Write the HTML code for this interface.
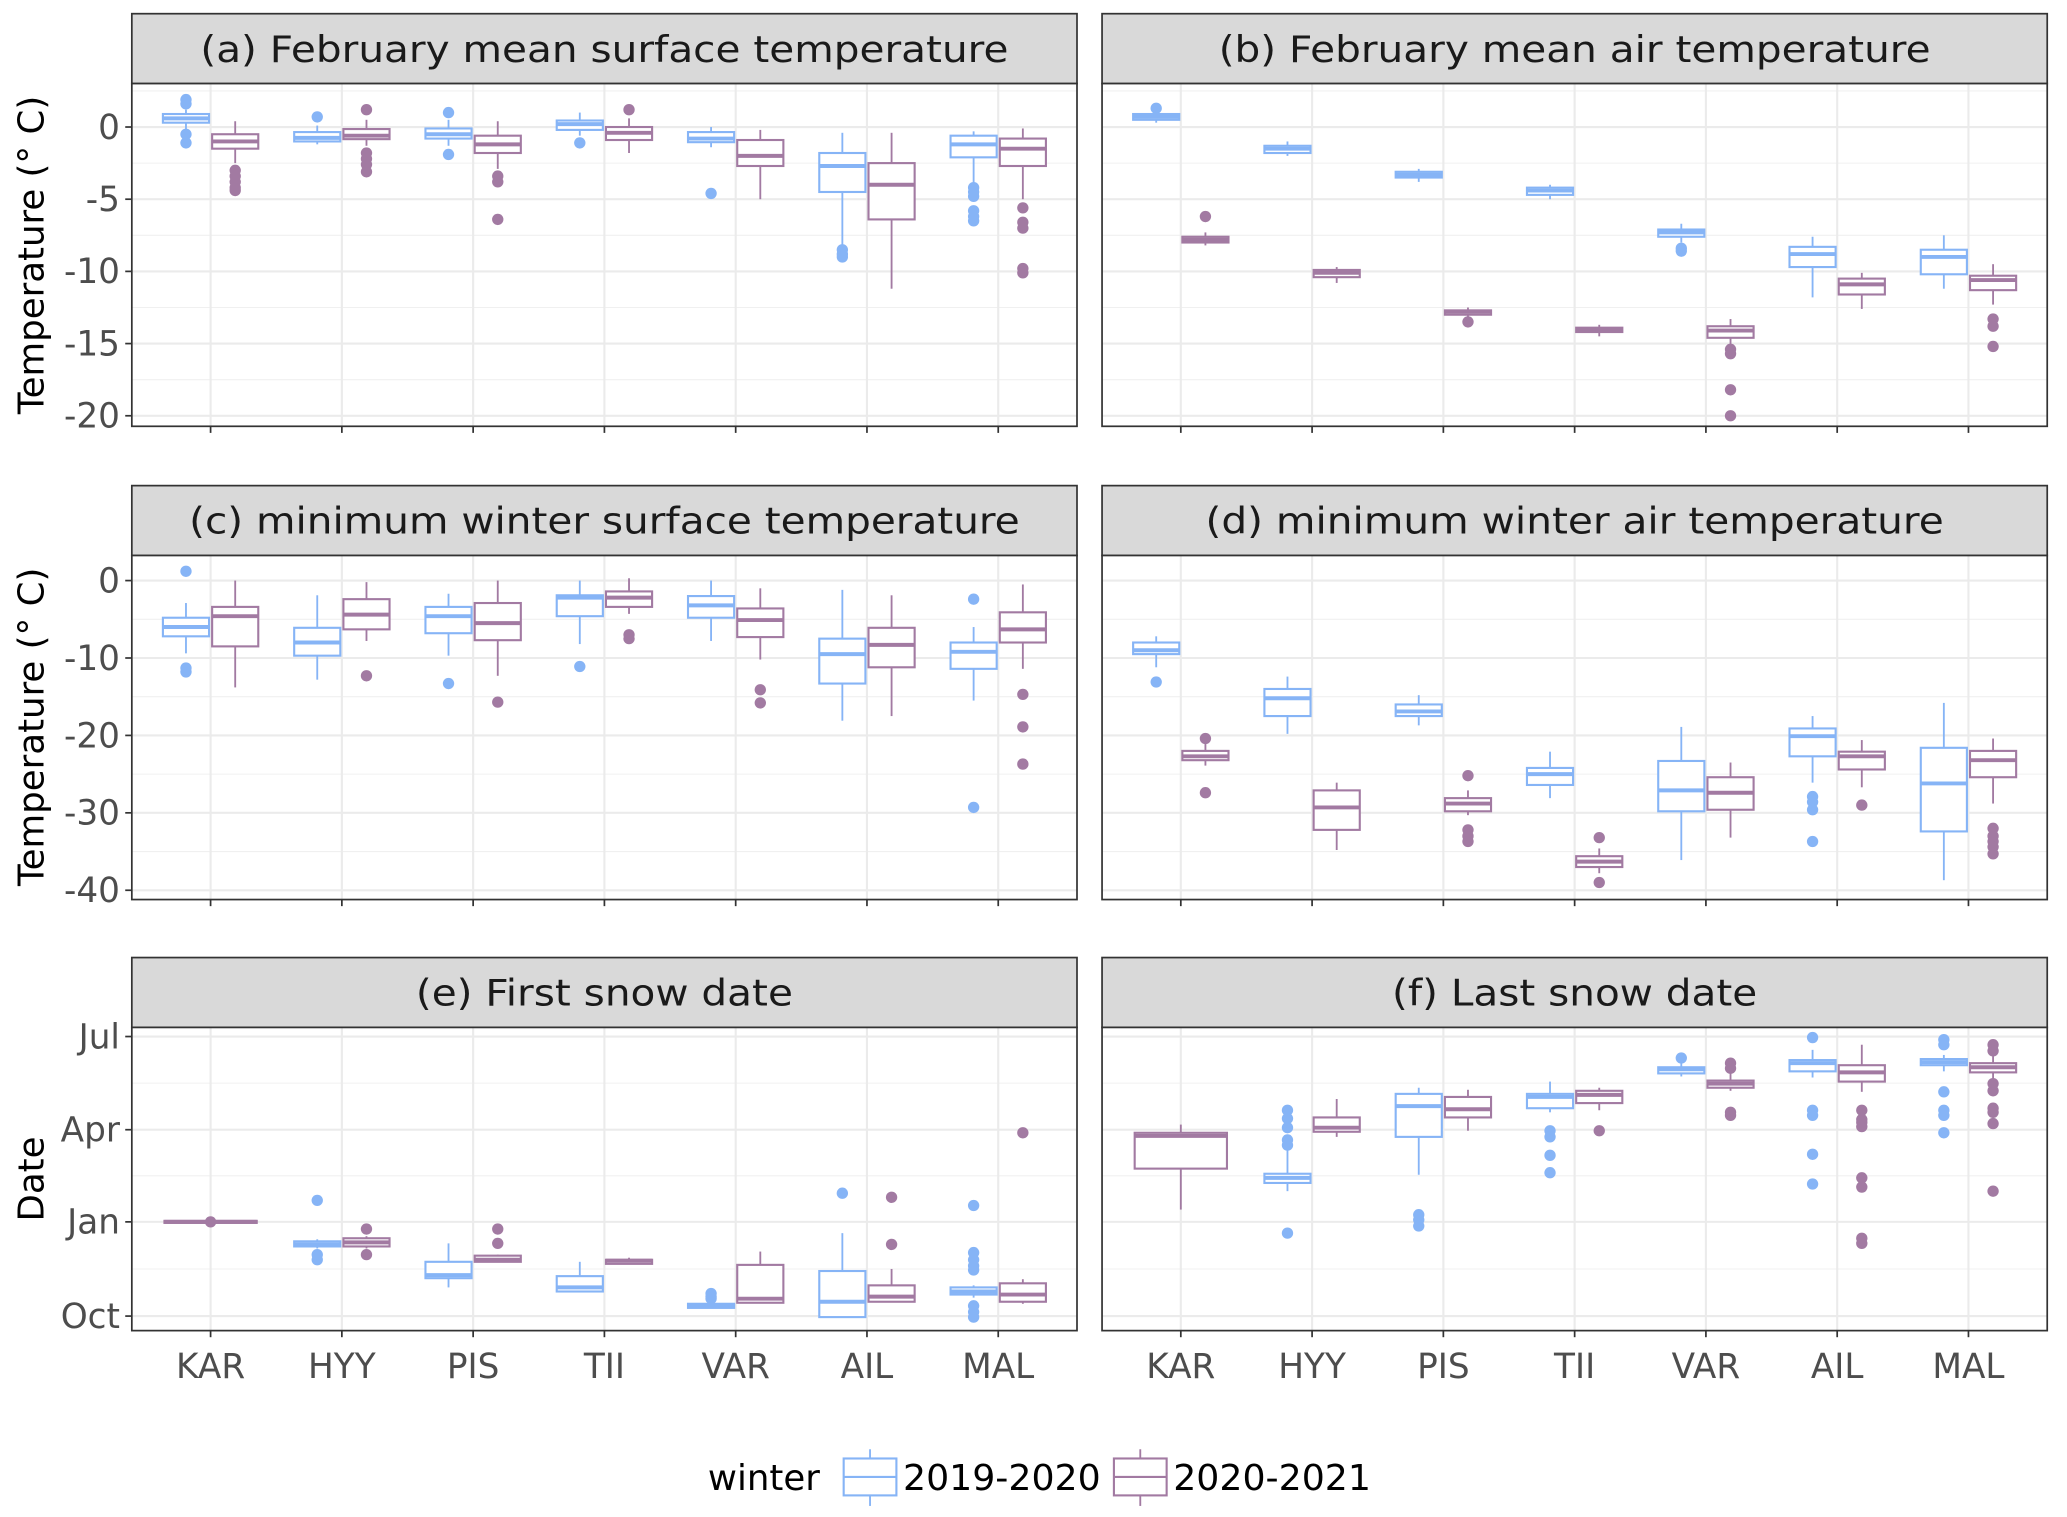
<!DOCTYPE html>
<html><head><meta charset="utf-8"><style>
html,body{margin:0;padding:0;background:#fff;}
svg{display:block;font-family:"DejaVu Sans","Liberation Sans",sans-serif;}
</style></head><body>
<svg id="chart" width="2067" height="1517" viewBox="0 0 1568 1150" xmlns="http://www.w3.org/2000/svg"></svg>
<script>
// ---------- data ----------
const categories = ["KAR","HYY","PIS","TII","VAR","AIL","MAL"];
const seriesNames = ["2019-2020","2020-2021"];
// box stats: [lowWhisker, q1, median, q3, highWhisker]
const aBlue = [[-0.2,0.3,0.6,0.9,1.2],[-1.2,-1.0,-0.75,-0.35,0.1],[-1.3,-0.8,-0.5,-0.1,0.5],[-0.6,-0.2,0.2,0.45,1.0],[-1.4,-1.05,-0.8,-0.35,0],[-8.2,-4.5,-2.7,-1.8,-0.4],[-4.0,-2.1,-1.2,-0.6,-0.3]];
const aBlueOut = [[1.9,1.6,-0.5,-1.1],[0.7],[1.0,-1.9],[-1.1],[-4.6],[-8.5,-8.8,-9.0],[-4.2,-4.5,-4.8,-5.8,-6.2,-6.5]];
const aPurple = [[-2.5,-1.5,-1.0,-0.5,0.4],[-1.3,-0.84,-0.6,-0.14,0.5],[-2.9,-1.8,-1.2,-0.6,0.4],[-1.8,-0.9,-0.4,0,0.6],[-5.0,-2.7,-2.0,-0.9,-0.2],[-11.2,-6.4,-4.0,-2.5,-0.4],[-5.0,-2.7,-1.5,-0.8,-0.1]];
const aPurpleOut = [[-3.0,-3.4,-3.8,-4.2,-4.4],[1.2,-1.8,-2.2,-2.6,-3.1],[-3.4,-3.8,-6.4],[1.2],[],[],[-5.6,-6.6,-7.0,-9.8,-10.1]];

const bBlue = [[0.3,0.5,0.7,0.9,1.0],[-2.0,-1.8,-1.5,-1.3,-1.0],[-3.8,-3.5,-3.3,-3.1,-2.9],[-5.0,-4.7,-4.4,-4.2,-4.0],[-8.0,-7.6,-7.3,-7.1,-6.7],[-11.8,-9.7,-8.8,-8.3,-7.6],[-11.2,-10.2,-9.0,-8.5,-7.5]];
const bBlueOut = [[1.3],[],[],[],[-8.4,-8.6],[],[]];
const bPurple = [[-8.2,-8.0,-7.8,-7.6,-7.3],[-10.8,-10.4,-10.1,-9.9,-9.7],[-13.2,-13.0,-12.8,-12.7,-12.5],[-14.5,-14.2,-14.0,-13.9,-13.7],[-15.1,-14.6,-14.1,-13.8,-13.3],[-12.6,-11.6,-10.9,-10.5,-10.1],[-12.3,-11.3,-10.6,-10.3,-9.5]];
const bPurpleOut = [[-6.2],[],[-13.5],[],[-15.4,-15.7,-18.2,-20.0],[],[-13.3,-13.8,-15.2]];

const cBlue = [[-9.4,-7.2,-6.0,-4.8,-2.9],[-12.8,-9.7,-8.0,-6.1,-1.9],[-9.7,-6.8,-4.6,-3.4,-1.7],[-8.2,-4.6,-2.2,-1.9,0],[-7.8,-4.8,-3.2,-2.0,0],[-18.1,-13.3,-9.5,-7.5,-1.2],[-15.5,-11.4,-9.2,-8.0,-6.0]];
const cBlueOut = [[1.2,-11.3,-11.8],[],[-13.3],[-11.1],[],[],[-2.4,-29.3]];
const cPurple = [[-13.8,-8.5,-4.6,-3.4,0],[-7.8,-6.3,-4.4,-2.4,-0.2],[-12.3,-7.7,-5.5,-2.9,0],[-4.3,-3.4,-2.2,-1.4,0.3],[-10.2,-7.3,-5.1,-3.6,-1.0],[-17.5,-11.2,-8.3,-6.1,-1.9],[-11.4,-8.0,-6.3,-4.1,-0.5]];
const cPurpleOut = [[],[-12.3],[-15.7],[-7.0,-7.5],[-14.1,-15.8],[],[-14.7,-18.9,-23.7]];

const dBlue = [[-11.2,-9.5,-9.0,-8.0,-7.2],[-19.8,-17.5,-15.2,-14.0,-12.4],[-18.7,-17.5,-16.9,-16.0,-14.8],[-28.1,-26.4,-25.0,-24.2,-22.1],[-36.1,-29.8,-27.1,-23.3,-18.9],[-26.1,-22.7,-20.1,-19.1,-17.5],[-38.7,-32.4,-26.2,-21.6,-15.8]];
const dBlueOut = [[-13.1],[],[],[],[],[-27.9,-28.6,-29.6,-33.7],[]];
const dPurple = [[-23.9,-23.2,-22.7,-22.0,-21.0],[-34.8,-32.2,-29.3,-27.1,-26.1],[-30.3,-29.8,-28.8,-28.1,-27.1],[-37.8,-37.0,-36.3,-35.6,-34.6],[-33.2,-29.6,-27.4,-25.4,-23.5],[-26.7,-24.4,-22.7,-22.1,-20.6],[-28.8,-25.4,-23.2,-22.0,-20.4]];
const dPurpleOut = [[-20.4,-27.4],[],[-25.2,-32.2,-33.0,-33.7],[-33.2,-39.0],[],[-29.0],[-32.0,-33.0,-33.7,-34.4,-35.3]];

// dates as days since 1 Oct (null = no box for that winter)
const eBlue = [null,[66,68,70,73,75],[28,37,40,53,71],[24,24,28,39,53],[8,8,10,12,13],[-1,-1,14,44,81],[18,21,24,28,30]];
const eBlueOut = [[],[113,60,55],[],[],[22,19,17],[120],[108,62,55,49,45,10,4,-1]];
const ePurple = [[91,91,92,93,93],[66,68,72,76,78],[53,53,55,59,60],[51,51,54,55,57],[13,13,17,50,63],[14,14,19,30,46],[12,14,21,32,36]];
const ePurpleOut = [[92],[85,60],[85,71],[],[],[70,116],[179]];

const fBlue = [null,[122,130,135,139,162],[138,175,205,217,223],[199,203,214,217,229],[234,237,241,243,248],[233,239,247,250,260],[239,245,248,251,255]];
const fBlueOut = [[],[201,193,184,172,167,81],[99,94,88],[181,175,157,140],[252],[272,201,196,158,129],[270,265,219,201,196,179]];
const fPurple = [[104,144,176,179,187],[175,180,184,194,212],[181,194,202,214,221],[201,208,216,220,223],[220,223,227,230,238],[219,229,238,245,265],[230,238,243,247,268]];
const fPurpleOut = [[],[],[],[181],[247,242,199,196],[201,192,189,185,135,126,76,71],[265,259,227,220,203,199,188,122]];

const tempTicksAB = [0,-5,-10,-15,-20];
const tempLabelsAB = ["0","-5","-10","-15","-20"];
const tempTicksCD = [0,-10,-20,-30,-40];
const tempLabelsCD = ["0","-10","-20","-30","-40"];
const dateTicks = [0,92,182,273];
const dateLabels = ["Oct","Jan","Apr","Jul"];

// ---------- drawing ----------
const NS = "http://www.w3.org/2000/svg";
const svg = document.getElementById("chart");
const BLUE = "#86b4f6", PURPLE = "#a27aa2";
function mk(tag, attrs, parent){
  const e = document.createElementNS(NS, tag);
  for (const k in attrs) e.setAttribute(k, attrs[k]);
  (parent||svg).appendChild(e);
  return e;
}
function linear(d0,d1,r0,r1){ return v => r0 + (v-d0)*(r1-r0)/(d1-d0); }

const cols = [100, 836], pw = 717;
const rows = [
  {st:10, top:63, bot:323, dom:[-20.73,3.01]},
  {st:368, top:421, bot:682, dom:[-41.2,3.24]},
  {st:726, top:779, bot:1009, dom:[-14.2,281.9]}
];
const panels = [
  {id:"a", title:"(a) February mean surface temperature", tl:613, r:0, c:0, b:aBlue, bo:aBlueOut, p:aPurple, po:aPurpleOut, ticks:tempTicksAB, labels:tempLabelsAB, minor:[2.5,-2.5,-7.5,-12.5,-17.5]},
  {id:"b", title:"(b) February mean air temperature", tl:540, r:0, c:1, b:bBlue, bo:bBlueOut, p:bPurple, po:bPurpleOut, ticks:tempTicksAB, labels:null, minor:[2.5,-2.5,-7.5,-12.5,-17.5]},
  {id:"c", title:"(c) minimum winter surface temperature", tl:630, r:1, c:0, b:cBlue, bo:cBlueOut, p:cPurple, po:cPurpleOut, ticks:tempTicksCD, labels:tempLabelsCD, minor:[-5,-15,-25,-35]},
  {id:"d", title:"(d) minimum winter air temperature", tl:560, r:1, c:1, b:dBlue, bo:dBlueOut, p:dPurple, po:dPurpleOut, ticks:tempTicksCD, labels:null, minor:[-5,-15,-25,-35]},
  {id:"e", title:"(e) First snow date", tl:286, r:2, c:0, b:eBlue, bo:eBlueOut, p:ePurple, po:ePurpleOut, ticks:dateTicks, labels:dateLabels, minor:[46,137,227.5]},
  {id:"f", title:"(f) Last snow date", tl:277, r:2, c:1, b:fBlue, bo:fBlueOut, p:fPurple, po:fPurpleOut, ticks:dateTicks, labels:null, minor:[46,137,227.5]}
];

function drawBox(g, xc, bw, y, s, outs, color, name){
  const grp = mk("g", {}, g);
  
  
  mk("line",{x1:xc,x2:xc,y1:y(s[4]),y2:y(s[3]),stroke:color,"stroke-width":1.4},grp);
  mk("line",{x1:xc,x2:xc,y1:y(s[1]),y2:y(s[0]),stroke:color,"stroke-width":1.4},grp);
  const yt = y(s[3]), yb = y(s[1]);
  mk("rect",{x:xc-bw/2,y:yt,width:bw,height:Math.max(yb-yt,0.5),fill:"#fff",stroke:color,"stroke-width":1.6},grp);
  mk("line",{x1:xc-bw/2,x2:xc+bw/2,y1:y(s[2]),y2:y(s[2]),stroke:color,"stroke-width":3},grp);
  outs.forEach(v=>{
    const c = mk("circle",{cx:xc,cy:y(v),r:4.3,fill:color},grp);
    
    
  });
}

panels.forEach(P=>{
  const R = rows[P.r], x0 = cols[P.c], x1 = x0+pw;
  const y = linear(R.dom[0], R.dom[1], R.bot, R.top);
  const step = pw/7.2;
  const xcat = i => x0 + (0.6+i)*step;
  const g = mk("g",{});
  
  
  const strip = mk("rect",{x:x0,y:R.st,width:pw,height:R.top-R.st,fill:"#d9d9d9",stroke:"#333","stroke-width":1.3},g);
  
  
  const t = mk("text",{x:x0+pw/2,y:(R.st+R.top)/2+10,"text-anchor":"middle","font-size":28,fill:"#1a1a1a",textLength:P.tl,lengthAdjust:"spacingAndGlyphs"},g);
  t.textContent = P.title;
  
  
  mk("rect",{x:x0,y:R.top,width:pw,height:R.bot-R.top,fill:"#fff"},g);
  P.minor.forEach(v=>{ mk("line",{x1:x0,x2:x1,y1:y(v),y2:y(v),stroke:"#f0f0f0","stroke-width":0.8},g); });
  P.ticks.forEach(v=>{ mk("line",{x1:x0,x2:x1,y1:y(v),y2:y(v),stroke:"#ebebeb","stroke-width":1.6},g); });
  categories.forEach((c,i)=>{ mk("line",{x1:xcat(i),x2:xcat(i),y1:R.top,y2:R.bot,stroke:"#ebebeb","stroke-width":1.6},g); });
  categories.forEach((c,i)=>{
    const bs = P.b[i], ps = P.p[i];
    if (bs && ps){
      drawBox(g, xcat(i)-step*0.1875, 35, y, bs, P.bo[i], BLUE, 'box-'+c.toLowerCase()+'-2019-2020');
      drawBox(g, xcat(i)+step*0.1875, 35, y, ps, P.po[i], PURPLE, 'box-'+c.toLowerCase()+'-2020-2021');
    } else if (ps){
      drawBox(g, xcat(i), 70, y, ps, P.po[i], PURPLE, 'box-'+c.toLowerCase()+'-2020-2021');
    } else if (bs){
      drawBox(g, xcat(i), 70, y, bs, P.bo[i], BLUE, 'box-'+c.toLowerCase()+'-2019-2020');
    }
  });
  mk("rect",{x:x0,y:R.top,width:pw,height:R.bot-R.top,fill:"none",stroke:"#333","stroke-width":1.3},g);
  categories.forEach((c,i)=>{
    mk("line",{x1:xcat(i),x2:xcat(i),y1:R.bot,y2:R.bot+5,stroke:"#333","stroke-width":1.3},g);
    if (P.r===2){
      const l = mk("text",{x:xcat(i),y:R.bot+36,"text-anchor":"middle","font-size":26,fill:"#4d4d4d"},g);
      l.textContent = c;
      
      
    }
  });
  if (P.labels){
    P.ticks.forEach((v,k)=>{
      mk("line",{x1:x0-5,x2:x0,y1:y(v),y2:y(v),stroke:"#333","stroke-width":1.3},g);
      const l = mk("text",{x:x0-9,y:y(v)+9,"text-anchor":"end","font-size":26,fill:"#4d4d4d"},g);
      l.textContent = P.labels[k];
      
      
    });
  }
});

[["Temperature (° C)",193],["Temperature (° C)",551],["Date",894]].forEach(a=>{
  const t = mk("text",{x:0,y:0,transform:"translate(33,"+a[1]+") rotate(-90)","text-anchor":"middle","font-size":27,fill:"#000"});
  t.textContent = a[0];
  
  
});

const lg = mk("g",{});


const lt = mk("text",{x:537,y:1130,"font-size":27,fill:"#000"},lg);
lt.textContent = "winter";


[[640,BLUE,seriesNames[0]],[845,PURPLE,seriesNames[1]]].forEach(L=>{
  const e = mk("g",{},lg);
  
  
  const cx = L[0]+20;
  mk("line",{x1:cx,x2:cx,y1:1099,y2:1142,stroke:L[1],"stroke-width":1.4},e);
  mk("rect",{x:L[0],y:1106,width:40,height:28,fill:"#fff",stroke:L[1],"stroke-width":1.6},e);
  mk("line",{x1:L[0],x2:L[0]+40,y1:1120,y2:1120,stroke:L[1],"stroke-width":1.6},e);
  const tx = mk("text",{x:L[0]+45,y:1130,"font-size":27,fill:"#000",textLength:150,lengthAdjust:"spacingAndGlyphs"},e);
  tx.textContent = L[2];
});
</script>
</body></html>
